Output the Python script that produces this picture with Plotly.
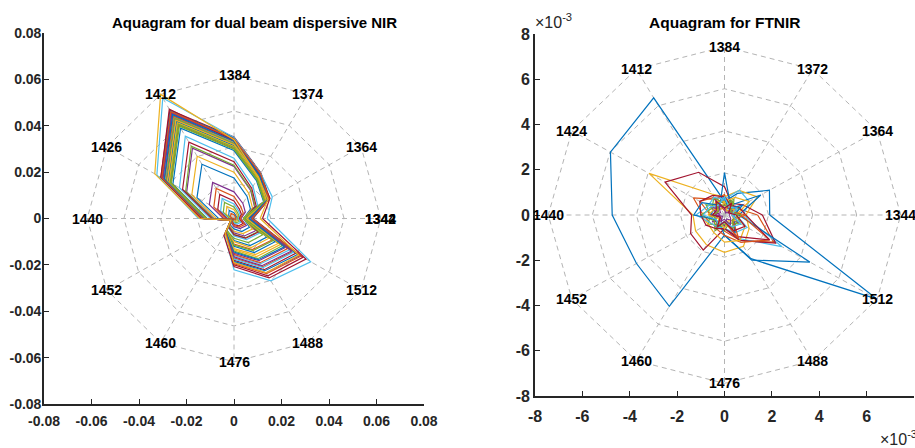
import numpy as np
import plotly.graph_objects as go

# ---------------- data ----------------
left_title = "Aquagram for dual beam dispersive NIR"
right_title = "Aquagram for FTNIR"

left_wavelengths = ["1342", "1364", "1374", "1384", "1412", "1426", "1440",
                    "1452", "1460", "1476", "1488", "1512", "1344"]
right_wavelengths = ["1344", "1364", "1372", "1384", "1412", "1424", "1440",
                     "1452", "1460", "1476", "1488", "1512"]

left_ticks = [-0.08, -0.06, -0.04, -0.02, 0, 0.02, 0.04, 0.06, 0.08]
left_ticktext = ["-0.08", "-0.06", "-0.04", "-0.02", "0", "0.02", "0.04", "0.06", "0.08"]
right_ticks = [-8, -6, -4, -2, 0, 2, 4, 6, 8]          # x 10^-3
right_ticktext = ["-8", "-6", "-4", "-2", "0", "2", "4", "6", "8"]

# aquagram values (x 10^-3), columns follow the first 12 wavelength labels
dual_beam_values = [
    [0.8, 1.2, 1.5, 2.5, 4.0, 2.6, 1.0, 0.2, 0.5, 0.6, 0.9, 1.0],
    [0.5, 0.8, 1.0, 1.6, 2.5, 1.7, 0.7, 0.1, 0.3, 0.4, 0.6, 0.7],
    [1.2, 1.8, 2.3, 3.8, 6.0, 3.9, 1.5, 0.3, 0.8, 1.0, 1.4, 1.7],
    [3.0, 5.5, 7.5, 11.5, 18.0, 12.0, 4.5, 0.6, 2.2, 3.5, 5.0, 6.0],
    [1.5, 2.4, 3.0, 5.0, 8.0, 5.2, 2.0, 0.3, 1.0, 1.5, 2.0, 2.5],
    [1.8, 3.0, 3.8, 6.3, 10.0, 6.5, 2.5, 0.4, 1.2, 2.0, 2.8, 3.3],
    [2.2, 3.6, 4.6, 7.6, 12.0, 7.9, 3.0, 0.4, 1.5, 2.6, 3.7, 4.4],
    [4.0, 8.0, 11.0, 17.5, 27.0, 18.0, 6.5, 0.8, 3.2, 4.5, 6.5, 7.5],
    [2.6, 4.5, 5.8, 9.5, 15.0, 9.8, 3.8, 0.5, 1.8, 3.0, 4.3, 5.2],
    [4.2, 9.0, 12.5, 20.0, 31.0, 20.5, 7.5, 0.9, 3.6, 5.5, 7.5, 9.0],
    [4.5, 10.0, 14.0, 22.5, 35.0, 23.0, 8.5, 1.0, 4.0, 6.2, 8.7, 10.5],
    [4.6, 10.3, 14.3, 23.0, 36.0, 23.5, 8.8, 1.0, 4.1, 6.8, 9.6, 11.5],
    [5.0, 11.5, 16.0, 26.0, 41.0, 26.5, 10.0, 1.1, 4.7, 7.5, 10.5, 12.5],
    [4.8, 10.8, 15.0, 24.5, 38.0, 25.0, 9.3, 1.0, 4.4, 7.0, 9.8, 11.8],
    [4.0, 14.4, 18.9, 29.3, 45.0, 29.7, 11.3, 1.4, 5.9, 9.5, 13.5, 16.0],
    [4.5, 14.9, 19.5, 30.2, 46.5, 30.7, 11.6, 1.4, 6.0, 11.0, 15.5, 18.5],
    [5.0, 15.4, 20.2, 31.2, 48.0, 31.7, 12.0, 1.4, 6.2, 13.0, 18.0, 21.5],
    [5.5, 15.8, 20.8, 32.2, 49.5, 32.7, 12.4, 1.5, 6.4, 15.0, 21.0, 25.0],
    [3.8, 14.7, 19.3, 29.9, 46.0, 30.4, 11.5, 1.4, 6.0, 8.5, 12.0, 14.0],
    [6.0, 16.2, 21.2, 32.8, 50.5, 33.3, 12.6, 1.5, 6.6, 16.0, 22.5, 27.0],
    [7.0, 16.8, 22.1, 34.1, 52.5, 34.7, 13.1, 1.6, 6.8, 18.0, 25.5, 30.0],
    [4.8, 15.5, 20.4, 31.5, 48.5, 32.0, 12.1, 1.5, 6.3, 12.0, 17.0, 20.0],
    [6.5, 16.5, 21.6, 33.5, 51.5, 34.0, 12.9, 1.5, 6.7, 17.0, 24.0, 28.5],
    [4.2, 15.2, 20.0, 30.9, 47.5, 31.4, 11.9, 1.4, 6.2, 10.0, 14.5, 17.0],
    [7.5, 17.0, 22.3, 34.5, 53.0, 35.0, 13.3, 1.6, 6.9, 19.0, 27.0, 32.0],
    [5.5, 16.0, 21.0, 32.5, 50.0, 33.0, 12.5, 1.5, 6.5, 14.0, 20.0, 23.5],
    [7.0, 16.6, 21.8, 33.8, 52.0, 34.3, 13.0, 1.6, 6.8, 17.5, 24.5, 29.0],
    [8.0, 17.3, 22.7, 35.1, 54.0, 35.6, 13.5, 1.6, 7.0, 20.0, 28.5, 33.5],
    [7.8, 17.1, 22.5, 34.8, 53.5, 35.3, 13.4, 1.6, 7.0, 18.5, 26.0, 31.0],
    [6.2, 16.3, 21.4, 33.2, 51.0, 33.7, 12.8, 1.5, 6.6, 15.5, 22.0, 26.0],
    [5.2, 15.7, 20.6, 31.9, 49.0, 32.3, 12.3, 1.5, 6.4, 13.5, 19.0, 22.5],
    [7.2, 16.7, 22.0, 34.0, 52.2, 34.5, 13.0, 1.6, 6.9, 16.5, 23.5, 28.0],
    [4.3, 15.0, 19.7, 30.6, 47.0, 31.0, 11.8, 1.4, 6.1, 11.5, 16.0, 19.0],
    [14.0, 18.6, 22.5, 35.0, 60.0, 37.5, 15.0, 1.5, 8.0, 22.1, 31.0, 37.3],
    [12.0, 17.5, 21.5, 33.5, 54.5, 35.5, 14.0, 1.5, 8.5, 20.7, 29.6, 35.0],
    [6.4, 16.4, 21.5, 33.4, 51.7, 33.9, 12.8, 1.5, 6.7, 14.5, 20.5, 24.5],
    [7.6, 17.0, 22.4, 34.4, 53.2, 35.1, 13.2, 1.6, 6.9, 19.5, 27.5, 32.5],
    [11.0, 16.5, 20.5, 34.0, 61.8, 38.5, 14.5, 1.5, 7.5, 19.0, 27.0, 31.5],
]

ftnir_values = [
    [1.91, 2.19, 1.1, 0.6, 5.98, 5.56, 4.74, 4.29, 4.66, 0.89, 2.23, 7.44],
    [1.4, 0.6, 0.5, 0.9, 0.8, 1.52, 0.9, 0.7, 0.6, 0.7, 1.3, 2.4],
    [0.9, 1.6, 1.25, 0.8, 1.07, 3.68, 1.33, 1.41, 1.52, 1.65, 1.6, 1.2],
    [0.6, 0.2, 0.7, 0.3, 0.8, 0.3, 0.6, 0.2, 0.7, 0.3, 0.9, 0.4],
    [0.5, 0.7, 0.4, 0.8, 0.5, 0.9, 0.6, 0.8, 0.5, 0.7, 0.4, 0.8],
    [0.8, 1.2, 1.26, 0.7, 0.6, 0.5, 0.4, 0.5, 0.4, 0.6, 1.2, 2.79],
    [1.6, 0.9, 0.6, 1.25, 2.18, 2.9, 1.39, 1.65, 1.79, 0.6, 1.3, 2.49],
    [0.6, 1.77, 0.5, 1.87, 0.4, 0.5, 0.6, 0.5, 0.4, 0.9, 2.3, 4.16],
    [0.7, 0.5, 0.6, 0.5, 0.9, 1.2, 0.6, 0.5, 0.7, 0.9, 1.4, 2.2],
    [0.5, 1.2, 0.9, 0.6, 0.7, 0.6, 1.0, 0.8, 0.9, 1.2, 1.3, 1.0],
    [0.3, 0.6, 0.2, 0.5, 0.3, 0.7, 0.2, 0.6, 0.3, 0.5, 0.2, 0.7],
    [0.7, 0.4, 0.8, 0.5, 0.9, 0.6, 1.0, 0.5, 0.8, 0.4, 0.7, 0.6],
    [0.5, 0.6, 0.5, 0.7, 0.9, 0.8, 1.2, 0.7, 0.6, 0.6, 0.9, 1.1],
    [0.9, 0.7, 0.5, 0.8, 1.0, 1.2, 1.0, 0.9, 0.7, 0.6, 1.1, 2.2],
    [0.4, 0.9, 0.3, 0.8, 0.5, 1.1, 1.3, 0.4, 0.6, 0.3, 0.9, 0.5],
    [0.9, 0.3, 0.5, 0.2, 0.6, 0.3, 0.4, 0.2, 0.5, 0.3, 1.2, 0.4],
    [0.3, 0.5, 0.2, 0.6, 0.3, 0.5, 0.7, 0.3, 0.4, 0.6, 0.3, 0.5],
    [0.2, 0.4, 0.1, 0.3, 0.5, 0.2, 0.4, 0.1, 0.3, 0.2, 0.5, 0.3],
    [0.6, 0.3, 0.7, 0.4, 0.6, 0.3, 0.5, 0.4, 0.6, 0.3, 0.7, 0.4],
    [0.3, 0.6, 0.4, 0.8, 0.5, 0.7, 0.9, 0.4, 0.5, 0.3, 0.6, 0.8],
    [0.5, 0.2, 0.6, 0.3, 0.7, 0.4, 0.5, 0.2, 0.6, 0.3, 0.8, 1.0],
]

line_colors = ["#0072BD", "#D95319", "#EDB120", "#7E2F8E", "#77AC30", "#4DBEEE", "#A2142F"]

# ---------------- figure ----------------
W, H = 915, 448
fig = go.Figure()
GRID = "#b4b4b4"
AX = "#262626"
FONT = "Liberation Sans, Arial, sans-serif"
NARROW = "Liberation Sans Narrow, Arial Narrow, Liberation Sans, sans-serif"


def add_aquagram(values, labels, xa, ya, label_font, label_size):
    n = 12
    ang = np.deg2rad(np.arange(n) * 360.0 / n)
    vals = np.array(values, dtype=float) * 1e-3
    rmax = np.max(np.abs(vals))
    # rings
    for j in range(1, 5):
        r = rmax * j / 4
        xs = list(r * np.cos(ang)) + [r * np.cos(ang[0])]
        ys = list(r * np.sin(ang)) + [r * np.sin(ang[0])]
        fig.add_trace(go.Scatter(x=xs, y=ys, mode="lines", xaxis=xa, yaxis=ya,
                                 line=dict(color=GRID, width=1, dash="5px,4px"),
                                 hoverinfo="skip", showlegend=False))
    # spokes
    for a in ang:
        fig.add_trace(go.Scatter(x=[0, rmax * np.cos(a)], y=[0, rmax * np.sin(a)],
                                 mode="lines", xaxis=xa, yaxis=ya,
                                 line=dict(color=GRID, width=1, dash="5px,4px"),
                                 hoverinfo="skip", showlegend=False))
    # series
    for i, row in enumerate(vals):
        r = np.append(row, row[0])
        a = np.append(ang, ang[0])
        fig.add_trace(go.Scatter(x=r * np.cos(a), y=r * np.sin(a), mode="lines",
                                 xaxis=xa, yaxis=ya,
                                 line=dict(color=line_colors[i % 7], width=1.2),
                                 showlegend=False))
    # wavelength labels
    xr = "x" if xa == "x" else "x2"
    yr = "y" if ya == "y" else "y2"
    for k, lab in enumerate(labels):
        a = np.deg2rad(k * 360.0 / n)
        fig.add_annotation(x=rmax * np.cos(a), y=rmax * np.sin(a), xref=xr, yref=yr,
                           text="<b>%s</b>" % lab, showarrow=False,
                           xanchor="center", yanchor="middle",
                           font=dict(family=label_font, size=label_size, color="#000000"))


add_aquagram(dual_beam_values, left_wavelengths, "x", "y", FONT, 14)
add_aquagram(ftnir_values, right_wavelengths, "x2", "y2", NARROW, 14)


def axis_style(family, size, **kw):
    d = dict(showgrid=False, zeroline=False, showline=True, linecolor=AX, linewidth=1.6,
             ticks="inside", ticklen=5, tickwidth=1.2, tickcolor=AX, mirror=False,
             automargin=False,
             tickfont=dict(family=family, size=size, color=AX, weight="bold"))
    d.update(kw)
    return d


fig.update_layout(
    width=W, height=H, margin=dict(l=0, r=0, t=0, b=0, pad=0, autoexpand=False),
    paper_bgcolor="white", plot_bgcolor="white",
    xaxis=axis_style(FONT, 14, domain=[44 / W, 424 / W], range=[-0.08, 0.08], anchor="y",
                     tickmode="array", tickvals=left_ticks, ticktext=left_ticktext,
                     ticklabelstandoff=3),
    yaxis=axis_style(FONT, 14, domain=[1 - 404 / H, 1 - 33 / H], range=[-0.08, 0.08], anchor="x",
                     tickmode="array", tickvals=left_ticks, ticktext=left_ticktext,
                     ticklabelstandoff=-2),
    xaxis2=axis_style(NARROW, 16, domain=[535 / W, 914 / W], range=[-0.008, 0.008], anchor="y2",
                      tickmode="array", tickvals=[t * 1e-3 for t in right_ticks],
                      ticktext=right_ticktext, ticklabelstandoff=5),
    yaxis2=axis_style(NARROW, 16, domain=[1 - 396 / H, 1 - 34 / H], range=[-0.008, 0.008], anchor="x2",
                      tickmode="array", tickvals=[t * 1e-3 for t in right_ticks],
                      ticktext=right_ticktext, ticklabelstandoff=0),
)

fig.add_annotation(x=255 / W, y=1 - 23 / H, xref="paper", yref="paper", showarrow=False,
                   text="<b>%s</b>" % left_title, xanchor="center", yanchor="middle",
                   font=dict(family=FONT, size=15, color="#000000"))
fig.add_annotation(x=725 / W, y=1 - 22 / H, xref="paper", yref="paper", showarrow=False,
                   text="<b>%s</b>" % right_title, xanchor="center", yanchor="middle",
                   font=dict(family=NARROW, size=15.5, color="#000000"))
fig.add_annotation(x=533 / W, y=1 - 21 / H, xref="paper", yref="paper", showarrow=False,
                   text="×10<sup>-3</sup>", xanchor="left", yanchor="middle",
                   font=dict(family=NARROW, size=16, color=AX))
fig.add_annotation(x=878 / W, y=1 - 438 / H, xref="paper", yref="paper", showarrow=False,
                   text="×10<sup>-3</sup>", xanchor="left", yanchor="middle",
                   font=dict(family=NARROW, size=16, color=AX))

fig.write_html("out.html")
